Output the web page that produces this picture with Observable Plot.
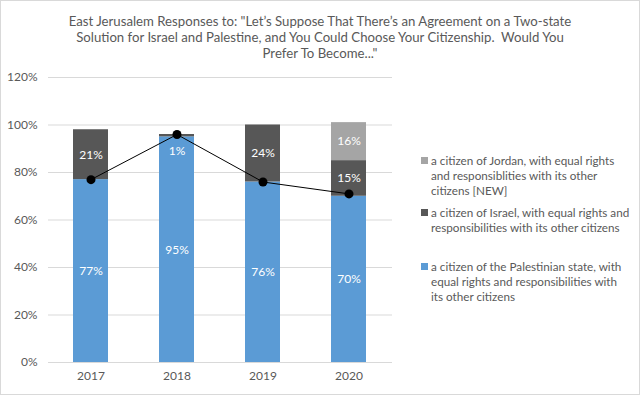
<!DOCTYPE html>
<html><head><meta charset="utf-8">
<script src="https://cdn.jsdelivr.net/npm/d3@7"></script>
<script src="https://cdn.jsdelivr.net/npm/@observablehq/plot@0.6"></script>
<style>
body{margin:0;background:#fff;}
#chart{position:relative;width:640px;height:395px;font-family:Lato,sans-serif;color:#595959;overflow:hidden;background:#fff}
#chart svg{position:absolute;left:0;top:0}
#title{position:absolute;left:0;top:13px;width:640px;text-align:center;font-size:13.2px;line-height:16px;white-space:pre}
.leg{position:absolute;left:421px;font-size:11.7px;line-height:15px;white-space:pre}
.leg .sw{position:absolute;left:0;top:4px;width:7px;height:7px}
.leg .tx{position:absolute;left:10px;top:0;width:215px}
#frame{position:absolute;left:0;top:0;right:0;bottom:0;border:1px solid #d9d9d9;pointer-events:none}
</style>
</head><body>
<div id="chart"><div id="title"></div><div id="frame"></div></div>
<script>
const titleText = "East Jerusalem Responses to: \"Let’s Suppose That There’s an Agreement on a Two-state\nSolution for Israel and Palestine, and You Could Choose Your Citizenship.  Would You\nPrefer To Become...\"";
const years = ["2017", "2018", "2019", "2020"];
const seriesNames = [
  "a citizen of the Palestinian state, with\nequal rights and responsibilities with\nits other citizens",
  "a citizen of Israel, with equal rights and\nresponsibilities with its other citizens",
  "a citizen of Jordan, with equal rights\nand responsiblities with its other\ncitizens [NEW]"
];
const palestinian = [77, 95, 76, 70];
const israel = [21, 1, 24, 15];
const jordan = [0, 0, 0, 16];
const trend = [77, 96, 76, 71];
const yTicks = [0, 20, 40, 60, 80, 100, 120];
const colors = ["#5B9BD5", "#575757", "#A5A5A5"];
const legendTops = [259, 205, 153];

const seriesValues = [palestinian, israel, jordan];
const rows = [];
years.forEach((yr, i) => {
  let base = 0;
  seriesValues.forEach((vals, s) => {
    const v = vals[i];
    if (v > 0) {
      rows.push({year: yr, series: seriesNames[s], value: v, y1: base, y2: base + v, mid: base + v / 2});
      base += v;
    }
  });
});
const trendRows = years.map((yr, i) => ({year: yr, value: trend[i]}));

const plot = Plot.plot({
  width: 640,
  height: 395,
  marginTop: 77,
  marginBottom: 33,
  marginLeft: 48,
  marginRight: 248,
  style: {fontFamily: "Lato, sans-serif", fontSize: "12px", color: "#595959", background: "transparent"},
  x: {domain: years, paddingInner: 0.59, paddingOuter: 0.295, label: null},
  y: {domain: [0, 120], label: null},
  color: {domain: seriesNames, range: colors},
  marks: [
    Plot.gridY(yTicks, {stroke: "#d9d9d9", strokeOpacity: 1}),
    Plot.axisY({ticks: yTicks, tickFormat: d => d + "%", tickSize: 0, tickPadding: 11, label: null, fontSize: 12}),
    Plot.axisX({tickSize: 0, tickPadding: 9, label: null, fontSize: 12}),
    Plot.barY(rows, {x: "year", y1: "y1", y2: "y2", fill: "series"}),
    Plot.text(rows.filter(d => d.value >= 5), {x: "year", y: "mid", text: d => d.value + "%", fill: "white", fontSize: 12}),
    Plot.text(rows.filter(d => d.value < 5), {x: "year", y: "mid", text: d => d.value + "%", fill: "white", fontSize: 12, dy: 15}),
    Plot.line(trendRows, {x: "year", y: "value", stroke: "black", strokeWidth: 1}),
    Plot.dot(trendRows, {x: "year", y: "value", r: 4.5, fill: "black"})
  ]
});
const chart = document.getElementById("chart");
chart.insertBefore(plot, chart.firstChild);
document.getElementById("title").textContent = titleText;

seriesNames.forEach((name, s) => {
  const item = document.createElement("div");
  item.className = "leg";
  item.style.top = legendTops[s] + "px";
  const sw = document.createElement("div");
  sw.className = "sw";
  sw.style.background = colors[s];
  const tx = document.createElement("div");
  tx.className = "tx";
  tx.textContent = name;
  item.appendChild(sw);
  item.appendChild(tx);
  chart.appendChild(item);
});
</script>
</body></html>
